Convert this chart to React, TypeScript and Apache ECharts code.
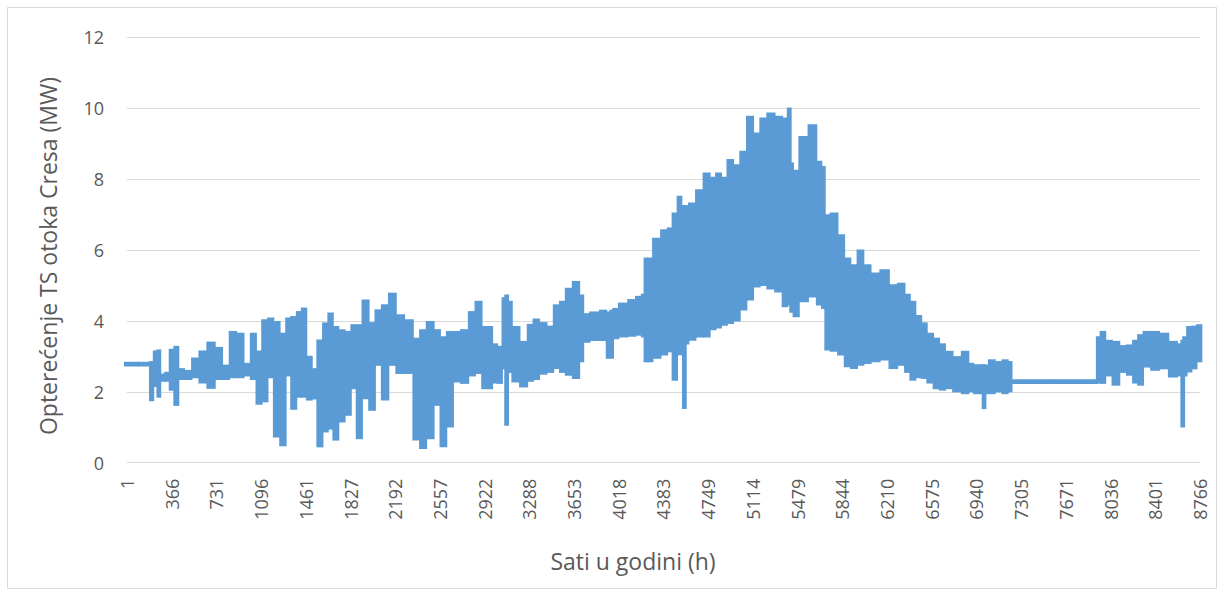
import React, { useEffect, useRef } from "react";
import * as echarts from "echarts";

// Hour of the year (x) with the lower and upper envelope of the hourly load (MW)
const hours = [
  1, 182, 200, 235, 260, 290, 330, 365, 405, 440, 500, 560, 620, 690, 750, 810, 865, 925, 985, 1035,
  1078, 1128, 1174, 1223, 1277, 1321, 1359, 1413, 1441, 1495, 1530, 1577, 1623, 1664, 1705, 1754, 1808, 1855, 1895, 1950,
  2004, 2053, 2108, 2168, 2230, 2304, 2372, 2413, 2481, 2535, 2584, 2639, 2693, 2761, 2821, 2870, 2930, 2966, 3006, 3047,
  3085, 3102, 3118, 3175, 3244, 3300, 3339, 3400, 3460, 3510, 3560, 3606, 3674, 3720, 3740, 3824, 3900, 3935, 3960, 3980,
  4055, 4130, 4183, 4225, 4240, 4265, 4327, 4396, 4436, 4475, 4518, 4545, 4554, 4565, 4613, 4681, 4736, 4790, 4831, 4880,
  4927, 4981, 5036, 5090, 5145, 5199, 5259, 5327, 5382, 5411, 5430, 5457, 5525, 5607, 5661, 5690, 5716, 5776, 5838, 5885,
  5939, 5994, 6043, 6111, 6193, 6261, 6329, 6380, 6416, 6470, 6512, 6560, 6615, 6660, 6710, 6784, 6852, 6900, 6934, 6990,
  7002, 7014, 7064, 7120, 7180, 7215, 7228, 7922, 7935, 7968, 8020, 8078, 8140, 8194, 8240, 8276, 8330, 8399, 8470, 8549,
  8610, 8625, 8640, 8677, 8720, 8760,
];
const lows = [
  2.78, 2.78, 1.8, 2.2, 1.9, 2.35, 2.35, 2.1, 1.67, 2.4, 2.4, 2.45, 2.3, 2.15, 2.4, 2.4, 2.45, 2.45, 2.5, 2.4,
  1.7, 1.77, 2.45, 0.78, 0.53, 2.5, 1.56, 1.9, 1.9, 1.82, 1.85, 0.5, 0.92, 1.0, 0.69, 1.2, 1.39, 2.14, 0.73, 1.86,
  1.53, 2.8, 1.82, 2.8, 2.57, 2.57, 0.69, 0.45, 0.73, 1.67, 0.5, 1.06, 2.33, 2.29, 2.5, 2.57, 2.14, 2.14, 2.3, 2.29,
  2.7, 1.11, 2.6, 2.33, 2.19, 2.35, 2.4, 2.55, 2.6, 2.71, 2.6, 2.52, 2.43, 2.9, 3.45, 3.5, 3.5, 3.0, 3.0, 3.55,
  3.6, 3.62, 3.65, 3.6, 2.9, 2.9, 3.0, 3.09, 3.18, 2.38, 3.1, 3.2, 1.58, 3.4, 3.51, 3.6, 3.6, 3.8, 3.85, 3.93,
  3.98, 4.05, 4.36, 4.64, 5.01, 5.05, 4.95, 4.87, 4.45, 4.5, 4.3, 4.17, 4.59, 4.73, 4.5, 4.4, 3.23, 3.2, 3.09, 2.76,
  2.71, 2.8, 2.85, 2.9, 2.95, 2.71, 2.8, 2.6, 2.38, 2.45, 2.43, 2.3, 2.14, 2.1, 2.14, 2.05, 2.0, 2.05, 2.0, 2.0,
  1.58, 2.0, 2.0, 2.05, 2.0, 2.05, 2.29, 2.29, 2.3, 2.29, 2.5, 2.24, 2.6, 2.52, 2.3, 2.24, 2.75, 2.66, 2.7, 2.47,
  2.5, 1.06, 2.5, 2.61, 2.7, 2.9,
];
const highs = [
  2.78, 2.78, 2.8, 3.1, 3.13, 2.45, 2.5, 3.15, 3.23, 2.6, 2.55, 2.9, 3.1, 3.35, 3.2, 2.7, 3.65, 3.6, 2.75, 3.6,
  3.1, 3.98, 4.03, 3.93, 3.6, 4.03, 4.07, 4.21, 4.31, 2.95, 2.6, 3.41, 3.89, 4.17, 3.79, 3.7, 3.65, 3.84, 3.84, 4.54,
  3.9, 4.26, 4.4, 4.73, 4.12, 3.98, 3.46, 3.7, 3.93, 3.7, 3.5, 3.65, 3.65, 3.7, 4.21, 4.5, 3.79, 3.79, 3.3, 3.23,
  4.6, 4.68, 4.5, 3.79, 3.37, 3.85, 4.0, 3.9, 3.8, 4.4, 4.5, 4.87, 5.06, 4.68, 4.15, 4.2, 4.25, 4.2, 4.25, 4.3,
  4.45, 4.55, 4.64, 4.7, 5.72, 5.72, 6.28, 6.52, 6.57, 6.99, 7.46, 7.2, 7.18, 7.2, 7.27, 7.65, 8.12, 8.0, 8.12, 8.0,
  8.5, 8.35, 8.73, 9.72, 9.25, 9.67, 9.81, 9.72, 9.67, 9.95, 8.4, 8.2, 9.15, 9.48, 8.45, 8.3, 6.94, 6.99, 6.38, 5.72,
  5.53, 5.95, 5.53, 5.3, 5.39, 4.97, 5.01, 4.7, 4.5, 4.1, 3.89, 3.6, 3.46, 3.3, 3.09, 2.94, 3.09, 2.75, 2.71, 2.71,
  2.71, 2.7, 2.85, 2.8, 2.85, 2.8, 2.29, 2.29, 3.5, 3.65, 3.4, 3.37, 3.25, 3.27, 3.4, 3.56, 3.65, 3.65, 3.6, 3.37,
  3.3, 3.4, 3.5, 3.79, 3.8, 3.84,
];

// Tick labels of the hour axis
const xTicks = [
  1, 366, 731, 1096, 1461, 1827, 2192, 2557, 2922, 3288, 3653, 4018, 4383, 4749, 5114, 5479, 5844, 6210, 6575,
  6940, 7305, 7671, 8036, 8401, 8766,
];

const yTitle = "Opterećenje TS otoka Cresa (MW)";
const xTitle = "Sati u godini (h)";

const BLUE = "#5B9BD5";
const GRID = "#D9D9D9";
const TEXT = "#595959";
const FONT = "'Open Sans', 'Noto Sans', sans-serif";
const LW = 4.75; // stroke thickness of the load line

export default function App() {
  const ref = useRef<HTMLDivElement>(null);

  useEffect(() => {
    if (!ref.current) return;
    const chart = echarts.init(ref.current, null, { renderer: "svg" });

    const bandData = hours.map((h, i) => [h, lows[i], highs[i]]);
    const last = hours.length - 1;

    chart.setOption({
      animation: false,
      backgroundColor: "#ffffff",
      grid: { left: 127, right: 24, top: 37.3, bottom: 130.3, containLabel: false },
      xAxis: {
        type: "value",
        min: 1,
        max: 8766,
        axisLine: { show: true, lineStyle: { color: GRID, width: 1 } },
        axisTick: { show: false },
        splitLine: { show: false },
        axisLabel: {
          customValues: xTicks,
          formatter: (v: number) => String(v),
          rotate: 90,
          margin: 16,
          fontSize: 18,
          color: TEXT,
          fontFamily: FONT,
        },
      },
      yAxis: {
        type: "value",
        min: 0,
        max: 12,
        interval: 2,
        axisLine: { show: false },
        axisTick: { show: false },
        splitLine: { show: true, lineStyle: { color: GRID, width: 1 } },
        axisLabel: { margin: 23, fontSize: 18, color: TEXT, fontFamily: FONT },
      },
      series: [
        {
          type: "custom",
          name: "load",
          data: bandData,
          encode: { x: 0, y: [1, 2] },
          clip: false,
          z: 3,
          renderItem: (params: any, api: any) => {
            const i = params.dataIndex;
            const h = api.value(0);
            const lo = api.value(1);
            const hi = api.value(2);
            const hl = i === 0 ? h : (hours[i - 1] + h) / 2;
            const hr = i === last ? h : (h + hours[i + 1]) / 2;
            const pLo = api.coord([hl, lo]);
            const pHi = api.coord([hr, hi]);
            const cx = api.coord([h, lo])[0];
            let x0 = pLo[0] - 0.7;
            let x1 = pHi[0] + 0.7;
            if (i === 0) x0 -= LW / 2;
            if (i === last) x1 += LW / 2;
            if (x1 - x0 < LW) {
              x0 = Math.min(x0, cx - LW / 2);
              x1 = Math.max(x1, cx + LW / 2);
            }
            const yTop = pHi[1] - LW / 2;
            const yBot = pLo[1] + LW / 2;
            return {
              type: "rect",
              shape: { x: x0, y: yTop, width: x1 - x0, height: yBot - yTop },
              style: { fill: BLUE },
            };
          },
        },
      ],
      graphic: [
        {
          type: "rect",
          shape: { x: 7.5, y: 7.5, width: 1209, height: 581 },
          style: { fill: "none", stroke: GRID, lineWidth: 1 },
          silent: true,
          z: -1,
        },
        {
          type: "text",
          x: 48,
          y: 256,
          rotation: Math.PI / 2,
          style: {
            text: yTitle,
            fontSize: 23,
            fontFamily: FONT,
            fill: TEXT,
            align: "center",
            verticalAlign: "middle",
          },
        },
        {
          type: "text",
          x: 633,
          y: 561,
          style: {
            text: xTitle,
            fontSize: 23,
            fontFamily: FONT,
            fill: TEXT,
            align: "center",
            verticalAlign: "middle",
          },
        },
      ],
    });

    return () => chart.dispose();
  }, []);

  return (
    <div
      ref={ref}
      style={{ position: "absolute", left: 0, top: 0, width: 1224, height: 593, background: "#fff" }}
    />
  );
}
